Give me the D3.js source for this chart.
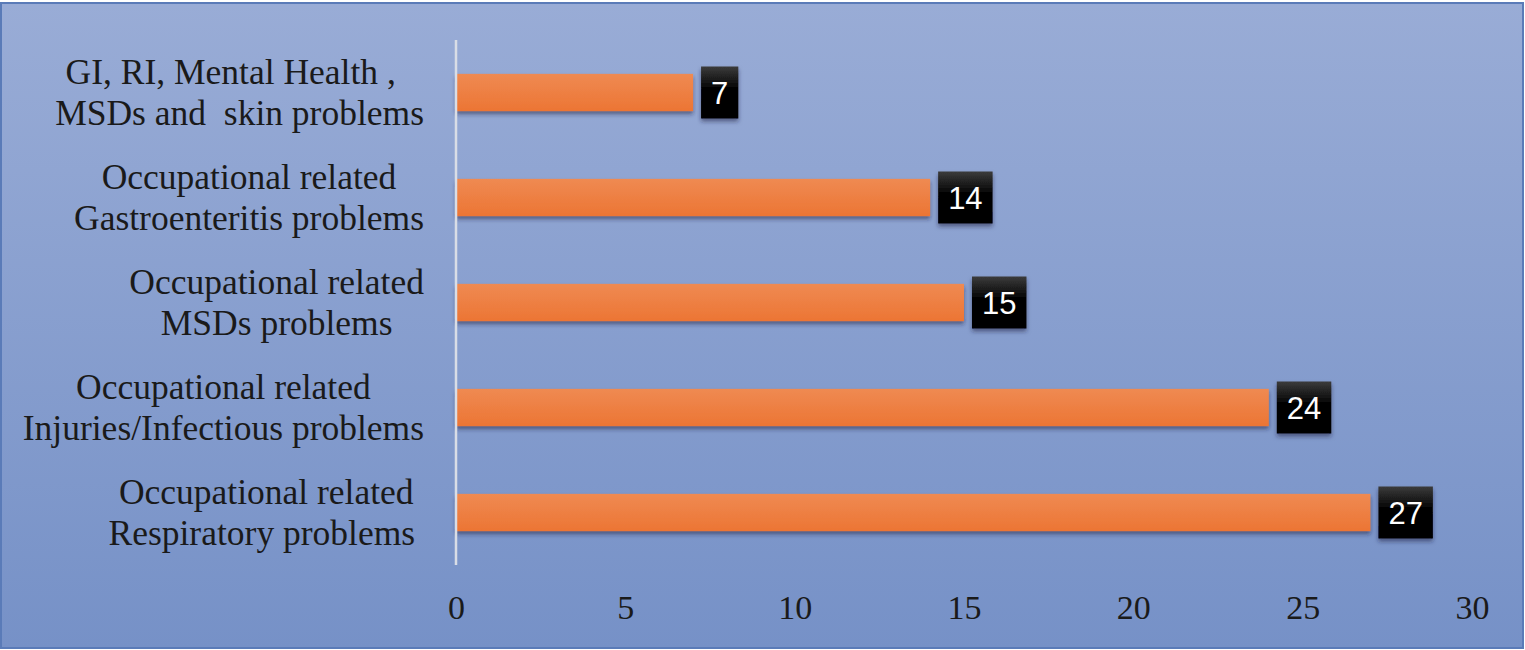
<!DOCTYPE html>
<html>
<head>
<meta charset="utf-8">
<script src="https://cdn.jsdelivr.net/npm/d3@7"></script>
<style>
  html, body { margin: 0; padding: 0; background: #ffffff; }
  svg { display: block; }
  text { white-space: pre; }
</style>
</head>
<body>
<div id="chart"></div>
<script>
// ---- data ----
const categories = [
  ["GI, RI, Mental Health ,  ", "MSDs and  skin problems"],
  ["Occupational related", "Gastroenteritis problems"],
  ["Occupational related", "MSDs problems"],
  ["Occupational related", "Injuries/Infectious problems"],
  ["Occupational related", "Respiratory problems "]
];
const values = [7, 14, 15, 24, 27];
const tickValues = [0, 5, 10, 15, 20, 25, 30];

// ---- layout ----
const W = 1525, H = 650;
const plot = { left: 456, right: 1472, top: 40, bottom: 565 };

const svg = d3.select("#chart").append("svg")
  .attr("width", W).attr("height", H);

const defs = svg.append("defs");
const bg = defs.append("linearGradient").attr("id", "bg")
  .attr("x1", 0).attr("y1", 0).attr("x2", 0).attr("y2", 1);
bg.append("stop").attr("offset", "0%").attr("stop-color", "#99acd6");
bg.append("stop").attr("offset", "100%").attr("stop-color", "#7691c7");

const barG = defs.append("linearGradient").attr("id", "barG")
  .attr("x1", 0).attr("y1", 0).attr("x2", 0).attr("y2", 1);
barG.append("stop").attr("offset", "0%").attr("stop-color", "#ef8a52");
barG.append("stop").attr("offset", "100%").attr("stop-color", "#ec7534");

const boxG = defs.append("linearGradient").attr("id", "boxG")
  .attr("x1", 0).attr("y1", 0).attr("x2", 0).attr("y2", 1);
boxG.append("stop").attr("offset", "0%").attr("stop-color", "#3c3c3c");
boxG.append("stop").attr("offset", "40%").attr("stop-color", "#060606");
boxG.append("stop").attr("offset", "100%").attr("stop-color", "#000000");

const sh = defs.append("filter").attr("id", "shadow")
  .attr("x", "-10%").attr("y", "-20%").attr("width", "130%").attr("height", "160%");
sh.append("feDropShadow").attr("dx", 0).attr("dy", 3).attr("stdDeviation", 2)
  .attr("flood-color", "#1a2440").attr("flood-opacity", 0.55);

// background with border
svg.append("rect").attr("x", 1).attr("y", 3).attr("width", W - 3).attr("height", H - 5)
  .attr("fill", "url(#bg)").attr("stroke", "#5a7bb8").attr("stroke-width", 2);

// ---- scales ----
const x = d3.scaleLinear().domain([0, 30]).range([plot.left, plot.right]);
const y = d3.scaleBand().domain(d3.range(categories.length))
  .range([plot.top, plot.bottom]).paddingInner(0.645).paddingOuter(0.3225);

// x axis tick labels
const xAxis = d3.axisBottom(x).tickValues(tickValues).tickSize(0).tickPadding(0);
const gx = svg.append("g").attr("transform", `translate(0,${plot.bottom})`).call(xAxis);
gx.select(".domain").remove();
gx.selectAll("text")
  .attr("dy", null).attr("y", 54)
  .attr("font-family", "'Liberation Serif', 'Times New Roman', serif")
  .attr("font-size", 34).attr("fill", "#1a1a1a");

// bars
svg.append("g").selectAll("rect").data(values).join("rect")
  .attr("x", x(0))
  .attr("y", (d, i) => y(i))
  .attr("width", d => x(d) - x(0))
  .attr("height", y.bandwidth())
  .attr("fill", "url(#barG)")
  .attr("filter", "url(#shadow)");

// vertical axis line
svg.append("line")
  .attr("x1", x(0)).attr("x2", x(0))
  .attr("y1", plot.top).attr("y2", plot.bottom)
  .attr("stroke", "#d9dde6").attr("stroke-width", 2.5);

// category labels (centered lines, block right-aligned)
const labelRight = 424;
const lg = svg.append("g")
  .attr("font-family", "'Liberation Serif', 'Times New Roman', serif")
  .attr("font-size", 35.5).attr("fill", "#1a1a1a");
categories.forEach((lines, i) => {
  const c = y(i) + y.bandwidth() / 2;
  const g = lg.append("g");
  const ts = lines.map((t, k) => g.append("text")
    .attr("text-anchor", "middle")
    .attr("y", c - 8.5 + k * 41)
    .text(t));
  const maxW = d3.max(ts, t => t.node().getComputedTextLength());
  ts.forEach(t => t.attr("x", labelRight - maxW / 2));
});

// data labels
const dl = svg.append("g");
values.forEach((v, i) => {
  const c = y(i) + y.bandwidth() / 2;
  const g = dl.append("g");
  const t = g.append("text")
    .attr("font-family", "'Liberation Sans', Arial, sans-serif")
    .attr("font-size", 31).attr("fill", "#ffffff")
    .attr("text-anchor", "middle")
    .attr("dominant-baseline", "central")
    .text(v);
  const tw = t.node().getComputedTextLength();
  const bw = tw + 20, bh = 52;
  const bx = x(v) + 8;
  g.insert("rect", "text")
    .attr("x", bx).attr("y", c - bh / 2)
    .attr("width", bw).attr("height", bh)
    .attr("fill", "url(#boxG)")
    .attr("filter", "url(#shadow)");
  t.attr("x", bx + bw / 2).attr("y", c + 1);
});
</script>
</body>
</html>
